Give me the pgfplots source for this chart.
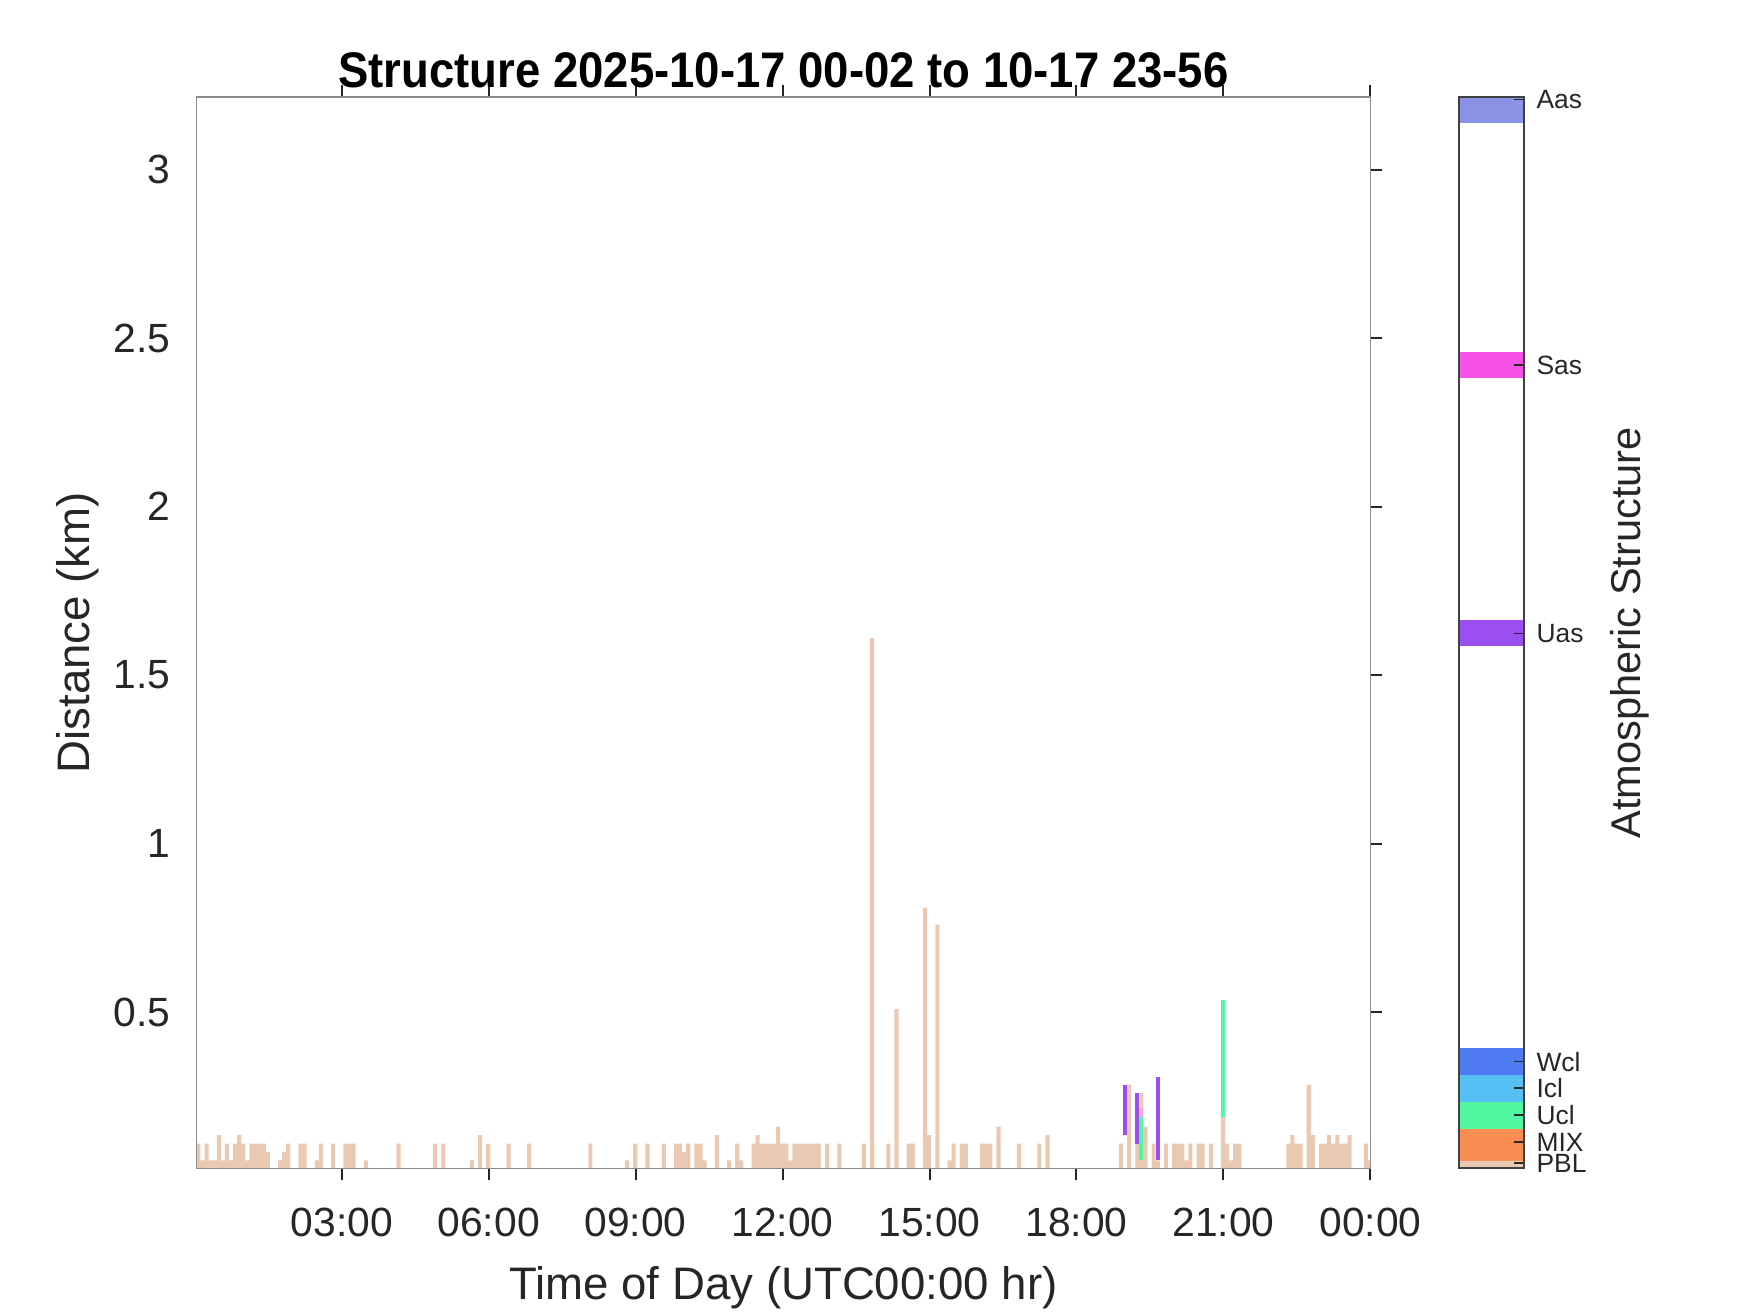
\documentclass[border=0pt]{standalone}
\usepackage{fontspec}
\setmainfont{Liberation Sans}
\newfontfamily\titlefont[FakeStretch=0.91]{Liberation Sans}
\usepackage{pgfplots}
\pgfplotsset{compat=1.18}

\definecolor{pbl}{RGB}{233,201,178}
\definecolor{mix}{RGB}{250,142,82}
\definecolor{ucl}{RGB}{82,245,160}
\definecolor{icl}{RGB}{86,192,245}
\definecolor{wcl}{RGB}{79,123,242}
\definecolor{uas}{RGB}{155,79,240}
\definecolor{sas}{RGB}{247,82,232}
\definecolor{aas}{RGB}{138,147,230}
\definecolor{pinkseg}{RGB}{245,172,200}
\definecolor{txt}{RGB}{38,38,38}

\begin{document}
\begin{tikzpicture}
\useasboundingbox (0,0) rectangle (437.5pt,328.25pt);
% main panel: time of day in minutes, height in km
\begin{axis}[
  at={(49.1pt,36.15pt)}, anchor=south west,
  scale only axis, width=293.5pt, height=267.8pt,
  xmin=2, xmax=1440, ymin=0.0364, ymax=3.215,
  xtick={180,360,540,720,900,1080,1260,1440},
  xticklabels={03:00,06:00,09:00,12:00,15:00,18:00,21:00,00:00},
  ytick={0.5,1,1.5,2,2.5,3},
  ytick pos=right, yticklabel pos=left,
  tick align=outside, major tick length=3pt,
  axis on top,
  axis line style={draw=black!45, line width=0.4pt},
  every tick/.style={txt, line width=0.5pt},
  /pgf/number format/assume math mode=true,
  tick label style={font=\fontsize{10.2}{12}\selectfont, text=txt},
  xticklabel style={yshift=-3.4pt},
  label style={font=\fontsize{11.4}{13}\selectfont, text=txt},
  xlabel={Time of Day (UTC00:00 hr)},
  ylabel={Distance (km)},
  xlabel style={at={(rel axis cs:0.5,-0.1221)}, anchor=base},
  ylabel style={at={(rel axis cs:-0.0913,0.5)}, anchor=base},
  every axis title shift=0pt,
  title={\titlefont\bfseries Structure 2025-10-17 00-02 to 10-17 23-56},
  title style={at={(rel axis cs:0.5,1.0093)}, anchor=base, font=\fontsize{12.5}{14}\selectfont},
]
\addplot[ybar, bar width=5, bar shift=0pt, fill=pbl, draw=none] coordinates {
(4.5,0.11) (9.5,0.06) (14.5,0.11) (19.5,0.06) (24.5,0.06) (29.5,0.135) (34.5,0.06)
(39.5,0.11) (44.5,0.06) (49.5,0.11) (54.5,0.135) (59.5,0.11) (64.5,0.06) (69.5,0.11)
(74.5,0.11) (79.5,0.11) (84.5,0.11) (89.5,0.085)
(104.5,0.06) (109.5,0.085) (114.5,0.11) (129.5,0.11) (134.5,0.11) (149.5,0.06)
(154.5,0.11) (169.5,0.11) (184.5,0.11) (189.5,0.11) (194.5,0.11) (209.5,0.06)
(249.5,0.11) (294.5,0.11) (304.5,0.11) (339.5,0.06) (349.5,0.135) (359.5,0.11)
(384.5,0.11) (409.5,0.11) (484.5,0.11) (529.5,0.06) (539.5,0.11) (554.5,0.11)
(574.5,0.11) (589.5,0.11) (594.5,0.11) (599.5,0.085) (604.5,0.11) (614.5,0.11)
(619.5,0.11) (624.5,0.06) (639.5,0.135) (654.5,0.06) (664.5,0.11) (669.5,0.06)
(684.5,0.11) (689.5,0.135) (694.5,0.11) (699.5,0.11) (704.5,0.11) (709.5,0.11)
(714.5,0.16) (719.5,0.11) (724.5,0.11) (729.5,0.06) (734.5,0.11) (739.5,0.11)
(744.5,0.11) (749.5,0.11) (754.5,0.11) (759.5,0.11) (764.5,0.11) (774.5,0.11)
(789.5,0.11) (819.5,0.11) (829.5,1.61) (849.5,0.11) (859.5,0.51) (874.5,0.11)
(879.5,0.11) (894.5,0.81) (899.5,0.135) (909.5,0.76) (924.5,0.06) (929.5,0.11)
(939.5,0.11) (944.5,0.11) (964.5,0.11) (969.5,0.11) (974.5,0.11) (984.5,0.16)
(1009.5,0.11) (1034.5,0.11) (1044.5,0.135)
(1134.5,0.11) (1144.5,0.285) (1154.5,0.11) (1159.5,0.26) (1164.5,0.16) (1174.5,0.11)
(1179.5,0.06) (1189.5,0.11) (1199.5,0.11) (1204.5,0.11) (1209.5,0.11) (1214.5,0.06)
(1219.5,0.11) (1229.5,0.11) (1234.5,0.11) (1244.5,0.11) (1259.5,0.19) (1264.5,0.11)
(1269.5,0.06) (1274.5,0.11) (1279.5,0.11)
(1339.5,0.11) (1344.5,0.135) (1349.5,0.11) (1354.5,0.11) (1364.5,0.285) (1369.5,0.135)
(1379.5,0.11) (1384.5,0.11) (1389.5,0.135) (1394.5,0.11) (1399.5,0.135) (1404.5,0.11)
(1409.5,0.11) (1414.5,0.135) (1434.5,0.11) (1439.5,0.06)
};
% layers that do not start at the ground
\addplot[fill=uas, draw=none] coordinates {(1137,0.136) (1142,0.136) (1142,0.284) (1137,0.284)} -- cycle;
\addplot[fill=uas, draw=none] coordinates {(1152,0.11) (1157,0.11) (1157,0.26) (1152,0.26)} -- cycle;
\addplot[fill=pinkseg, draw=none] coordinates {(1157,0.19) (1162,0.19) (1162,0.215) (1157,0.215)} -- cycle;
\addplot[fill=ucl, draw=none] coordinates {(1157,0.061) (1162,0.061) (1162,0.19) (1157,0.19)} -- cycle;
\addplot[fill=uas, draw=none] coordinates {(1177,0.061) (1182,0.061) (1182,0.309) (1177,0.309)} -- cycle;
\addplot[fill=ucl, draw=none] coordinates {(1257,0.19) (1262,0.19) (1262,0.535) (1257,0.535)} -- cycle;
\end{axis}

% colour bar
\begin{axis}[
  at={(364.7pt,36.15pt)}, anchor=south west,
  scale only axis, width=16.2pt, height=267.8pt,
  xmin=0, xmax=1, ymin=0, ymax=960,
  xtick=\empty,
  ytick={4.6,23.4,47.9,71.8,95.7,479.4,719.9,958},
  yticklabels={PBL,MIX,Ucl,Icl,Wcl,Uas,Sas,Aas},
  ytick pos=right, yticklabel pos=right,
  tick align=inside, major tick length=2.3pt,
  axis on top,
  axis line style={draw=black!75, line width=0.45pt},
  every tick/.style={txt, line width=0.45pt},
  yticklabel style={font=\fontsize{6.6}{7.5}\selectfont, xshift=-0.3pt, text=txt},
  ylabel={Atmospheric Structure},
  ylabel style={at={(rel axis cs:2.80,0.5)}, anchor=base, font=\fontsize{10.4}{12}\selectfont, text=txt},
]
\addplot[fill=pbl, draw=none] coordinates {(0,0) (1,0) (1,6.4) (0,6.4)} -- cycle;
\addplot[fill=mix, draw=none] coordinates {(0,6.4) (1,6.4) (1,35.7) (0,35.7)} -- cycle;
\addplot[fill=ucl, draw=none] coordinates {(0,35.7) (1,35.7) (1,59.8) (0,59.8)} -- cycle;
\addplot[fill=icl, draw=none] coordinates {(0,59.8) (1,59.8) (1,83.7) (0,83.7)} -- cycle;
\addplot[fill=wcl, draw=none] coordinates {(0,83.7) (1,83.7) (1,107.6) (0,107.6)} -- cycle;
\addplot[fill=uas, draw=none] coordinates {(0,468.1) (1,468.1) (1,491.4) (0,491.4)} -- cycle;
\addplot[fill=sas, draw=none] coordinates {(0,708) (1,708) (1,731.3) (0,731.3)} -- cycle;
\addplot[fill=aas, draw=none] coordinates {(0,937) (1,937) (1,960) (0,960)} -- cycle;
\end{axis}
\end{tikzpicture}
\end{document}
